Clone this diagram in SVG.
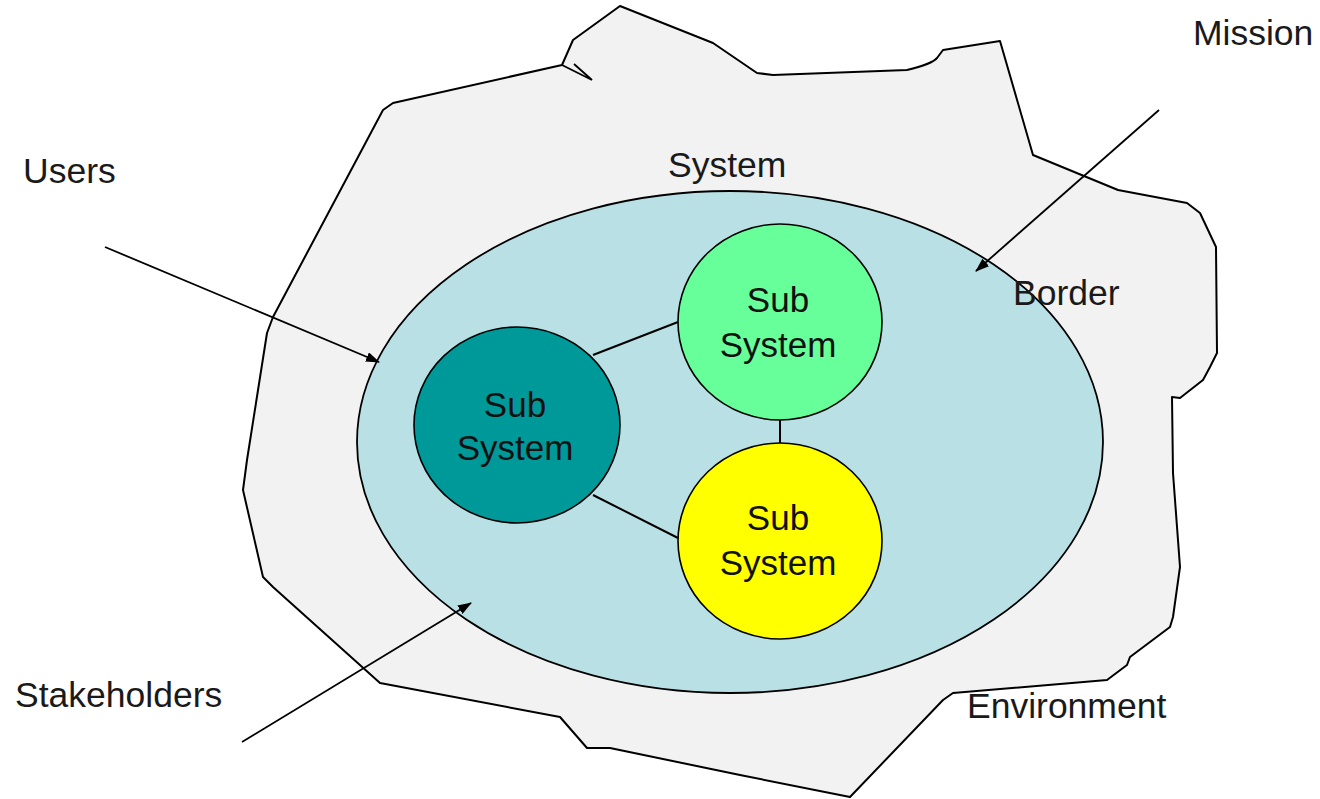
<svg xmlns="http://www.w3.org/2000/svg" width="1320" height="799" viewBox="0 0 1320 799">
  <defs>
    <style>
      .lbl { font-family: "Liberation Sans", Arial, sans-serif; font-size: 35.5px; fill: #1a1a1a; }
      .sub { font-family: "Liberation Sans", Arial, sans-serif; font-size: 35px; fill: #111; text-anchor: middle; }
      .edge { stroke: #000; stroke-width: 2; fill: none; }
      .arrow { stroke: #000; stroke-width: 1.8; fill: none; marker-end: url(#ah); }
      .node { stroke: #000; stroke-width: 1.6; }
    </style>
    <marker id="ah" markerUnits="userSpaceOnUse" markerWidth="14" markerHeight="10" refX="13" refY="5" orient="auto">
      <path d="M0,0 L14,5 L0,10 z" fill="#000"/>
    </marker>
  </defs>
  <rect width="1320" height="799" fill="#fff"/>

  <g id="environment">
    <path d="M393,103 L562,65 L573,40 L620,6 L713,43 L757,73 L773,75 L907,70 Q932,64 937,58 L943,50 L1000,41 L1033,155 L1118,190 L1187,203 L1200,213 L1216,247 L1217,353 L1210,367 L1203,380 L1180,398 L1172,397 L1173,473 L1180,567 L1173,617 L1170,627 L1130,657 L1127,665 L1107,680 L953,693 L943,700 L850,797 L740,775 L610,748 L587,748 L560,717 L380,683 L273,587 L263,577 L243,490 L247,460 L267,333 L273,317 L383,110 Z" fill="#f2f2f2" stroke="#000" stroke-width="2" stroke-linejoin="round"/>
    <path d="M562,65 L592,80 L574,64" fill="none" stroke="#000" stroke-width="1.8"/>
  </g>

  <g id="system">
    <ellipse cx="730" cy="442" rx="373" ry="251" fill="#b9e0e4" stroke="#000" stroke-width="1.8"/>
  </g>

  <g id="connectors">
    <line class="edge" x1="593" y1="355" x2="678" y2="322"/>
    <line class="edge" x1="593" y1="495" x2="678" y2="538"/>
    <line class="edge" x1="780" y1="419" x2="780" y2="444"/>
    <line class="arrow" x1="105" y1="247" x2="379" y2="362"/>
    <line class="arrow" x1="242" y1="742" x2="471" y2="603"/>
    <line class="arrow" x1="1159" y1="110" x2="976" y2="271"/>
  </g>

  <g id="subsystem-teal">
    <ellipse class="node" cx="517" cy="425" rx="103" ry="98" fill="#009999"/>
    <text class="sub" x="515" y="417">Sub</text>
    <text class="sub" x="515" y="460">System</text>
  </g>

  <g id="subsystem-green">
    <ellipse class="node" cx="780" cy="322" rx="102" ry="98" fill="#66ff99"/>
    <text class="sub" x="778" y="312">Sub</text>
    <text class="sub" x="778" y="357">System</text>
  </g>

  <g id="subsystem-yellow">
    <ellipse class="node" cx="780" cy="541" rx="102" ry="98" fill="#ffff00"/>
    <text class="sub" x="778" y="530">Sub</text>
    <text class="sub" x="778" y="575">System</text>
  </g>

  <g id="labels">
    <text class="lbl" x="23" y="183">Users</text>
    <text class="lbl" x="15" y="707">Stakeholders</text>
    <text class="lbl" x="1193" y="45">Mission</text>
    <text class="lbl" x="668" y="177">System</text>
    <text class="lbl" x="1013" y="305">Border</text>
    <text class="lbl" x="967" y="718">Environment</text>
  </g>
</svg>
